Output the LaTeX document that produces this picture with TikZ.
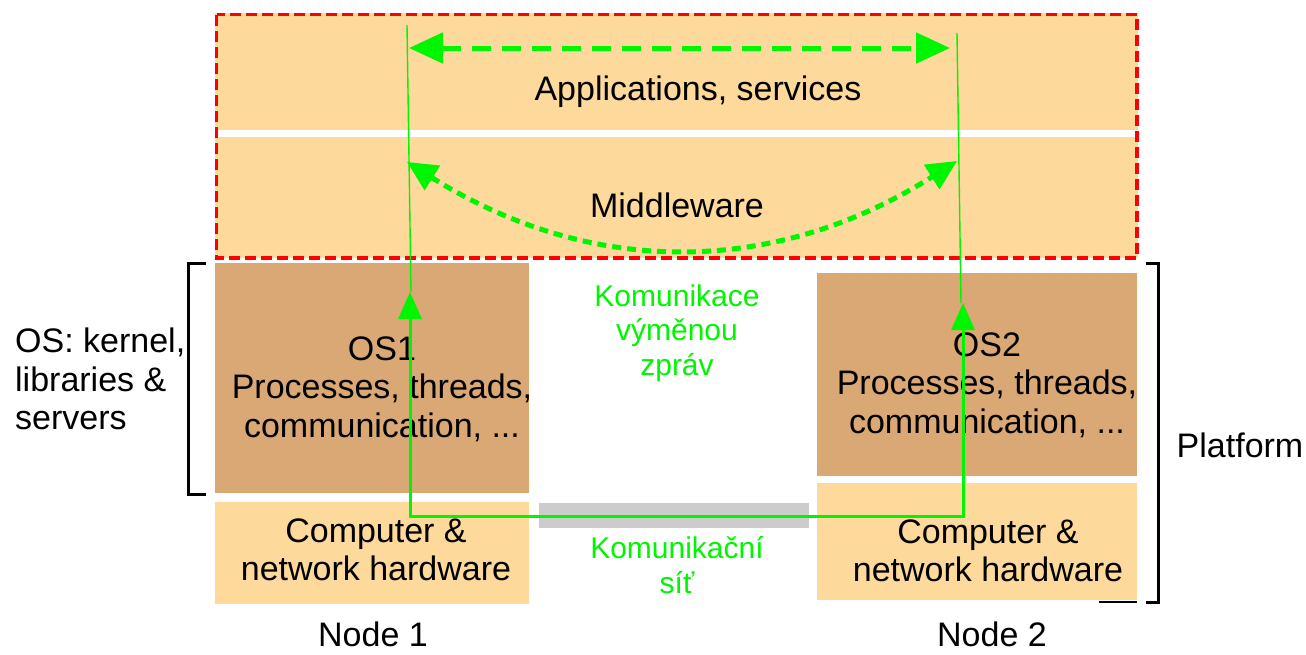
\documentclass[tikz,border=0pt]{standalone}
\usepackage{fontspec}
\setmainfont{Liberation Sans}
\usetikzlibrary{arrows.meta}
\definecolor{band}{HTML}{FDD99B}
\definecolor{tan}{HTML}{D9A874}
\definecolor{lime}{RGB}{0,245,0}
\definecolor{netgray}{HTML}{CCCCCC}
\tikzset{
  bigtext/.style={font=\fontsize{34}{38.5}\selectfont, align=center, inner sep=0pt},
  greentext/.style={font=\fontsize{30}{34.5}\selectfont, align=center, inner sep=0pt, text=lime},
  layerbox/.style={fill=band, draw=none},
  osbox/.style={fill=tan, draw=none},
  bracketline/.style={line width=3pt, black},
  thinline/.style={lime, line width=1.4pt},
  bigarrow/.style={lime, line width=5pt, dash pattern=on 19pt off 11pt, {Triangle[length=34pt,width=30pt]}-{Triangle[length=34pt,width=30pt]}},
  curvearrow/.style={lime, line width=5pt, dash pattern=on 9pt off 6pt, {Triangle[length=30pt,width=28pt]}-{Triangle[length=30pt,width=28pt]}},
  patharrow/.style={lime, line width=3pt, {Triangle[length=27pt,width=23pt]}-{Triangle[length=27pt,width=23pt]}},
}
\begin{document}
\begin{tikzpicture}[x=1pt,y=-1pt]
\useasboundingbox (0,0) rectangle (1306,654);
% layers
\fill[layerbox] (215,13) rectangle (1138,130);
\fill[layerbox] (215,137) rectangle (1138,258);
\fill[osbox] (215,263) rectangle (529,493);
\fill[layerbox] (215,502) rectangle (529,604);
\fill[osbox] (817,273) rectangle (1137,476);
\fill[layerbox] (817,483) rectangle (1137,600);
% red dashed frame
\draw[red, line width=3.6pt, dash pattern=on 11pt off 5pt] (216.5,14.5) rectangle (1137,258);
% network bar
\fill[netgray] (539,503) rectangle (809,528);
% brackets
\draw[bracketline] (206,263) -- (188,263) -- (188,494) -- (206,494);
\draw[bracketline] (1146,263) -- (1158,263) -- (1158,602) -- (1146,602);
\draw[black, line width=2pt] (1099,602) -- (1137,602);
% texts
\node[bigtext, anchor=base] (apps) at (698,100) {Applications, services};
\node[bigtext, anchor=base] (mw) at (677,217) {Middleware};
\node[bigtext] (os1) at (382,389) {OS1\\Processes, threads,\\communication, ...};
\node[bigtext] (hw1) at (376,550) {Computer \&\\network hardware};
\node[bigtext] (os2) at (987,385) {OS2\\Processes, threads,\\communication, ...};
\node[bigtext] (hw2) at (988,551) {Computer \&\\network hardware};
\node[bigtext, anchor=base] (n1) at (373,646) {Node 1};
\node[bigtext, anchor=base] (n2) at (992,646) {Node 2};
\node[bigtext, anchor=base] (plat) at (1240,457) {Platform};
\node[bigtext, align=left, anchor=north west] (oslabel) at (15,328) {OS: kernel,\\libraries \&\\servers};
\node[greentext] (msg) at (677,333) {Komunikace\\výměnou\\zpráv};
\node[greentext] (net) at (677,565) {Komunikační\\síť};
% coordinates for connectors
\coordinate (t1) at (407,25);
\coordinate (b1) at (411,292);
\coordinate (t2) at (957,33);
\coordinate (b2) at (961,303);
\coordinate (a1) at (409,48);
\coordinate (a2) at (950,48);
\coordinate (m1) at (407,162);
\coordinate (m2) at (957,161);
\coordinate (p1) at (410,292);
\coordinate (p2) at (963,303);
\coordinate (c1) at (410,516);
\coordinate (c2) at (963,516);
% connectors
\draw[thinline] (t1) -- (b1);
\draw[thinline] (t2) -- (b2);
\draw[bigarrow] (a1) -- (a2);
\draw[curvearrow] (m1) .. controls (590,277) and (774,277) .. (m2);
\draw[patharrow] (p1) -- (c1) -- (c2) -- (p2);
\end{tikzpicture}
\end{document}
